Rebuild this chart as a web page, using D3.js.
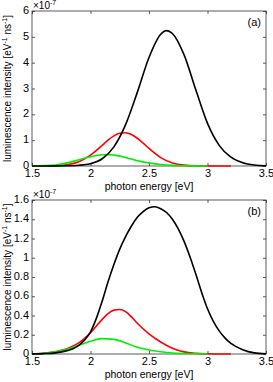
<!DOCTYPE html>
<html>
<head>
<meta charset="utf-8">
<script src="https://cdn.jsdelivr.net/npm/d3@7"></script>
<style>
  body { margin: 0; background: #fff; }
  svg { display: block; font-family: "Liberation Sans", Arial, sans-serif; }
</style>
</head>
<body>
<svg width="273" height="382"></svg>
<script>
// x ticks shared by both panels (photon energy, eV)
const energyTicks = [1.5, 2, 2.5, 3, 3.5];

// panel (a) ticks, units of 1e-7
const ticksA = [0, 1, 2, 3, 4, 5, 6];
// panel (b) ticks
const ticksB = [0, 0.2, 0.4, 0.6, 0.8, 1, 1.2, 1.4, 1.6];

// panel (a) curves: [energy, intensity]
const blackA = [[1.5,0],[1.6,0.001],[1.7,0.003],[1.8,0.008],[1.9,0.028],[2.0,0.09],[2.1,0.28],[2.2,0.74],
  [2.3,1.6],[2.4,2.85],[2.5,4.2],[2.6,5.1],[2.65,5.24],[2.7,5.13],[2.8,4.3],[2.9,2.95],[3.0,1.65],
  [3.1,0.8],[3.2,0.34],[3.3,0.13],[3.4,0.04],[3.5,0.01]];
const redA = [[1.5,0],[1.6,0.002],[1.7,0.011],[1.8,0.05],[1.9,0.166],[2.0,0.42],[2.1,0.8],[2.15,1.0],
  [2.2,1.167],[2.25,1.268],[2.3,1.286],[2.35,1.217],[2.4,1.074],[2.45,0.885],[2.5,0.68],[2.6,0.326],
  [2.7,0.12],[2.8,0.033],[2.9,0.007],[3.0,0.001],[3.1,0],[3.2,0]];
const greenA = [[1.5,0.005],[1.6,0.015],[1.7,0.04],[1.8,0.12],[1.9,0.24],[2.0,0.36],[2.1,0.435],
  [2.15,0.44],[2.2,0.42],[2.3,0.33],[2.4,0.2],[2.5,0.12],[2.6,0.06],[2.7,0.025],[2.8,0.01],
  [2.9,0.003],[3.0,0]];

// panel (b) curves
const blackB = [[1.5,0.001],[1.6,0.004],[1.7,0.012],[1.8,0.035],[1.85,0.055],[1.9,0.09],[1.95,0.145],
  [2.0,0.23],[2.05,0.37],[2.1,0.55],[2.15,0.75],[2.2,0.93],[2.25,1.09],[2.3,1.22],[2.35,1.33],
  [2.4,1.42],[2.45,1.48],[2.5,1.52],[2.55,1.53],[2.6,1.51],[2.65,1.47],[2.7,1.4],[2.75,1.3],
  [2.8,1.17],[2.85,1.01],[2.9,0.83],[2.95,0.64],[3.0,0.47],[3.05,0.34],[3.1,0.24],[3.15,0.165],
  [3.2,0.11],[3.3,0.045],[3.4,0.012],[3.5,0.002]];
const redB = [[1.5,0.002],[1.6,0.008],[1.7,0.025],[1.8,0.055],[1.9,0.115],[2.0,0.22],[2.1,0.36],
  [2.15,0.42],[2.2,0.456],[2.25,0.463],[2.3,0.44],[2.35,0.385],[2.4,0.32],[2.5,0.21],[2.6,0.125],
  [2.7,0.06],[2.8,0.022],[2.9,0.007],[3.0,0.002],[3.1,0],[3.2,0]];
const greenB = [[1.5,0.003],[1.6,0.008],[1.7,0.022],[1.8,0.05],[1.9,0.09],[2.0,0.132],[2.1,0.16],
  [2.2,0.152],[2.3,0.115],[2.4,0.07],[2.5,0.042],[2.6,0.024],[2.7,0.011],[2.8,0.005],[2.9,0.002],
  [3.0,0]];

const svg = d3.select('svg');
const [left, right] = [32, 266];
const axisColor = '#333';

const x = d3.scaleLinear().domain([1.5, 3.5]).range([left, right]);

function drawPanel(cfg) {
  const y = d3.scaleLinear().domain([0, cfg.yMax]).range([cfg.bottom, cfg.top]);
  const g = svg.append('g');

  // box
  g.append('rect')
    .attr('x', left).attr('y', cfg.top)
    .attr('width', right - left).attr('height', cfg.bottom - cfg.top)
    .attr('fill', 'none').attr('stroke', axisColor).attr('stroke-width', 0.8);

  const style = sel => {
    sel.select('.domain').remove();
    sel.selectAll('line').attr('stroke', axisColor).attr('stroke-width', 0.8);
    sel.selectAll('text').attr('fill', '#000').attr('font-size', 11)
      .attr('font-family', '"Liberation Sans", Arial, sans-serif');
  };

  g.append('g').attr('transform', `translate(0,${cfg.bottom})`)
    .call(d3.axisBottom(x).tickValues(energyTicks).tickSize(-3).tickPadding(3)
      .tickFormat(d3.format('')))
    .call(style);
  g.append('g').attr('transform', `translate(0,${cfg.top})`)
    .call(d3.axisTop(x).tickValues(energyTicks).tickSize(-3).tickFormat(''))
    .call(style);
  g.append('g').attr('transform', `translate(${left},0)`)
    .call(d3.axisLeft(y).tickValues(cfg.ticks).tickSize(-3).tickPadding(3)
      .tickFormat(d3.format('')))
    .call(style)
    .call(sel => sel.selectAll('text').attr('dy', '0.24em'));
  g.append('g').attr('transform', `translate(${right},0)`)
    .call(d3.axisRight(y).tickValues(cfg.ticks).tickSize(-3).tickFormat(''))
    .call(style);

  const line = d3.line()
    .x(d => x(d[0]))
    .y(d => y(d[1]))
    .curve(d3.curveMonotoneX);

  cfg.series.forEach(s => {
    g.append('path')
      .datum(s.data)
      .attr('d', line)
      .attr('fill', 'none')
      .attr('stroke', s.color)
      .attr('stroke-width', 1.6);
  });

  // exponent
  const ex = g.append('text').attr('x', left + 1).attr('y', cfg.top - 2.5).attr('font-size', 10);
  ex.append('tspan').text('×10');
  ex.append('tspan').attr('font-size', 7).attr('dy', -4).text('-7');

  // panel label
  g.append('text').attr('x', 261).attr('y', cfg.top + 15)
    .attr('text-anchor', 'end').attr('font-size', 11).text(cfg.label);

  // x label
  g.append('text').attr('x', (left + right) / 2).attr('y', cfg.bottom + 24)
    .attr('text-anchor', 'middle').attr('font-size', 10.5).text('photon energy [eV]');

  // y label
  const cy = (cfg.top + cfg.bottom) / 2;
  const yl = g.append('text')
    .attr('transform', `translate(11,${cy}) rotate(-90)`)
    .attr('text-anchor', 'middle').attr('font-size', 10);
  yl.append('tspan').text('luminescence intensity [eV');
  yl.append('tspan').attr('font-size', 7).attr('dy', -4).text('-1');
  yl.append('tspan').attr('dy', 4).text(' ns');
  yl.append('tspan').attr('font-size', 7).attr('dy', -4).text('-1');
  yl.append('tspan').attr('dy', 4).text(']');
}

drawPanel({
  top: 11, bottom: 166, yMax: 6, ticks: ticksA, label: '(a)',
  series: [
    { data: redA, color: '#ff0000' },
    { data: greenA, color: '#00ee00' },
    { data: blackA, color: '#000000' }
  ]
});

drawPanel({
  top: 200, bottom: 354, yMax: 1.6, ticks: ticksB, label: '(b)',
  series: [
    { data: redB, color: '#ff0000' },
    { data: greenB, color: '#00ee00' },
    { data: blackB, color: '#000000' }
  ]
});
</script>
</body>
</html>
